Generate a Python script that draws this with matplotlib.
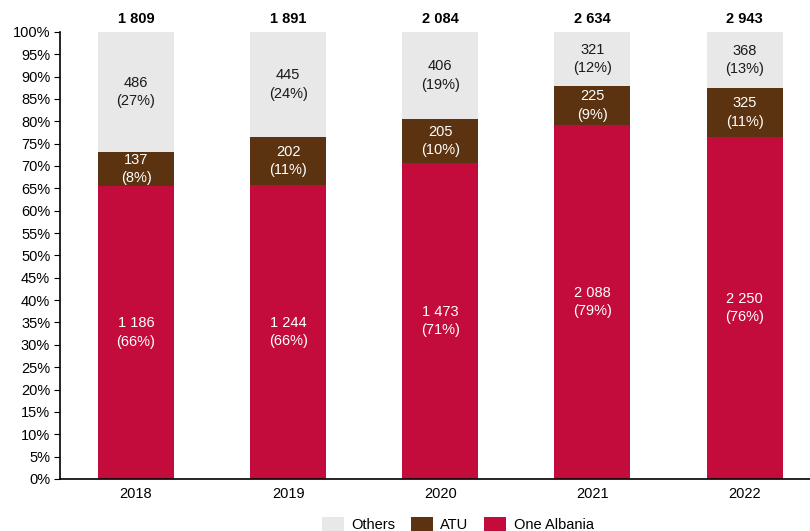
import matplotlib
matplotlib.use("Agg")
import matplotlib.pyplot as plt
import numpy as np
from matplotlib.ticker import PercentFormatter

plt.rcParams['font.family'] = ['Liberation Sans', 'DejaVu Sans']

years = ["2018", "2019", "2020", "2021", "2022"]
one_albania = [1186, 1244, 1473, 2088, 2250]
atu = [137, 202, 205, 225, 325]
others = [486, 445, 406, 321, 368]
totals = ["1 809", "1 891", "2 084", "2 634", "2 943"]


def fmt(n):
    return f"{n:,}".replace(",", " ")


oa = np.array(one_albania, float)
at = np.array(atu, float)
ot = np.array(others, float)
tot = oa + at + ot
oa_p, at_p, ot_p = oa / tot * 100, at / tot * 100, ot / tot * 100

fig = plt.figure(figsize=(8.1, 5.31), dpi=100)
ax = fig.add_axes([0.074, 0.098, 0.926, 0.842])

x = np.arange(len(years))
w = 0.5
c_oa, c_atu, c_ot = "#C40C3C", "#5C3310", "#E8E8E8"
fs = 10.5

ax.bar(x, oa_p, w, color=c_oa, label="One Albania")
ax.bar(x, at_p, w, bottom=oa_p, color=c_atu, label="ATU")
ax.bar(x, ot_p, w, bottom=oa_p + at_p, color=c_ot, label="Others")

for i in range(len(years)):
    ax.text(x[i], oa_p[i] / 2, f"{fmt(one_albania[i])}\n({oa_p[i]:.0f}%)",
            ha="center", va="center", color="white", fontsize=fs, linespacing=1.4)
    ax.text(x[i], oa_p[i] + at_p[i] / 2, f"{fmt(atu[i])}\n({at_p[i]:.0f}%)",
            ha="center", va="center", color="white", fontsize=fs, linespacing=1.4)
    ax.text(x[i], oa_p[i] + at_p[i] + ot_p[i] / 2, f"{fmt(others[i])}\n({ot_p[i]:.0f}%)",
            ha="center", va="center", color="#1a1a1a", fontsize=fs, linespacing=1.4)
    ax.text(x[i], 101.3, totals[i], ha="center", va="bottom", fontsize=fs,
            fontweight="bold", color="black")

ax.set_xlim(-0.5, 4.43)
ax.set_ylim(0, 100)
ax.set_yticks(np.arange(0, 101, 5))
ax.yaxis.set_major_formatter(PercentFormatter(decimals=0))
ax.set_xticks(x)
ax.set_xticklabels(years)
ax.tick_params(axis="x", length=0, labelsize=fs, pad=6)
ax.tick_params(axis="y", length=4, labelsize=fs, pad=3)
for s in ["top", "right"]:
    ax.spines[s].set_visible(False)
ax.spines["left"].set_linewidth(1.2)
ax.spines["bottom"].set_linewidth(1.2)

handles, labels = ax.get_legend_handles_labels()
order = [2, 1, 0]
fig.legend([handles[i] for i in order], [labels[i] for i in order],
           loc="lower center", bbox_to_anchor=(0.565, -0.013), ncol=3, frameon=False,
           fontsize=fs, handlelength=1.5, handleheight=1.2, columnspacing=1.1,
           handletextpad=0.5, borderaxespad=0)

fig.savefig("out.png", dpi=100)
